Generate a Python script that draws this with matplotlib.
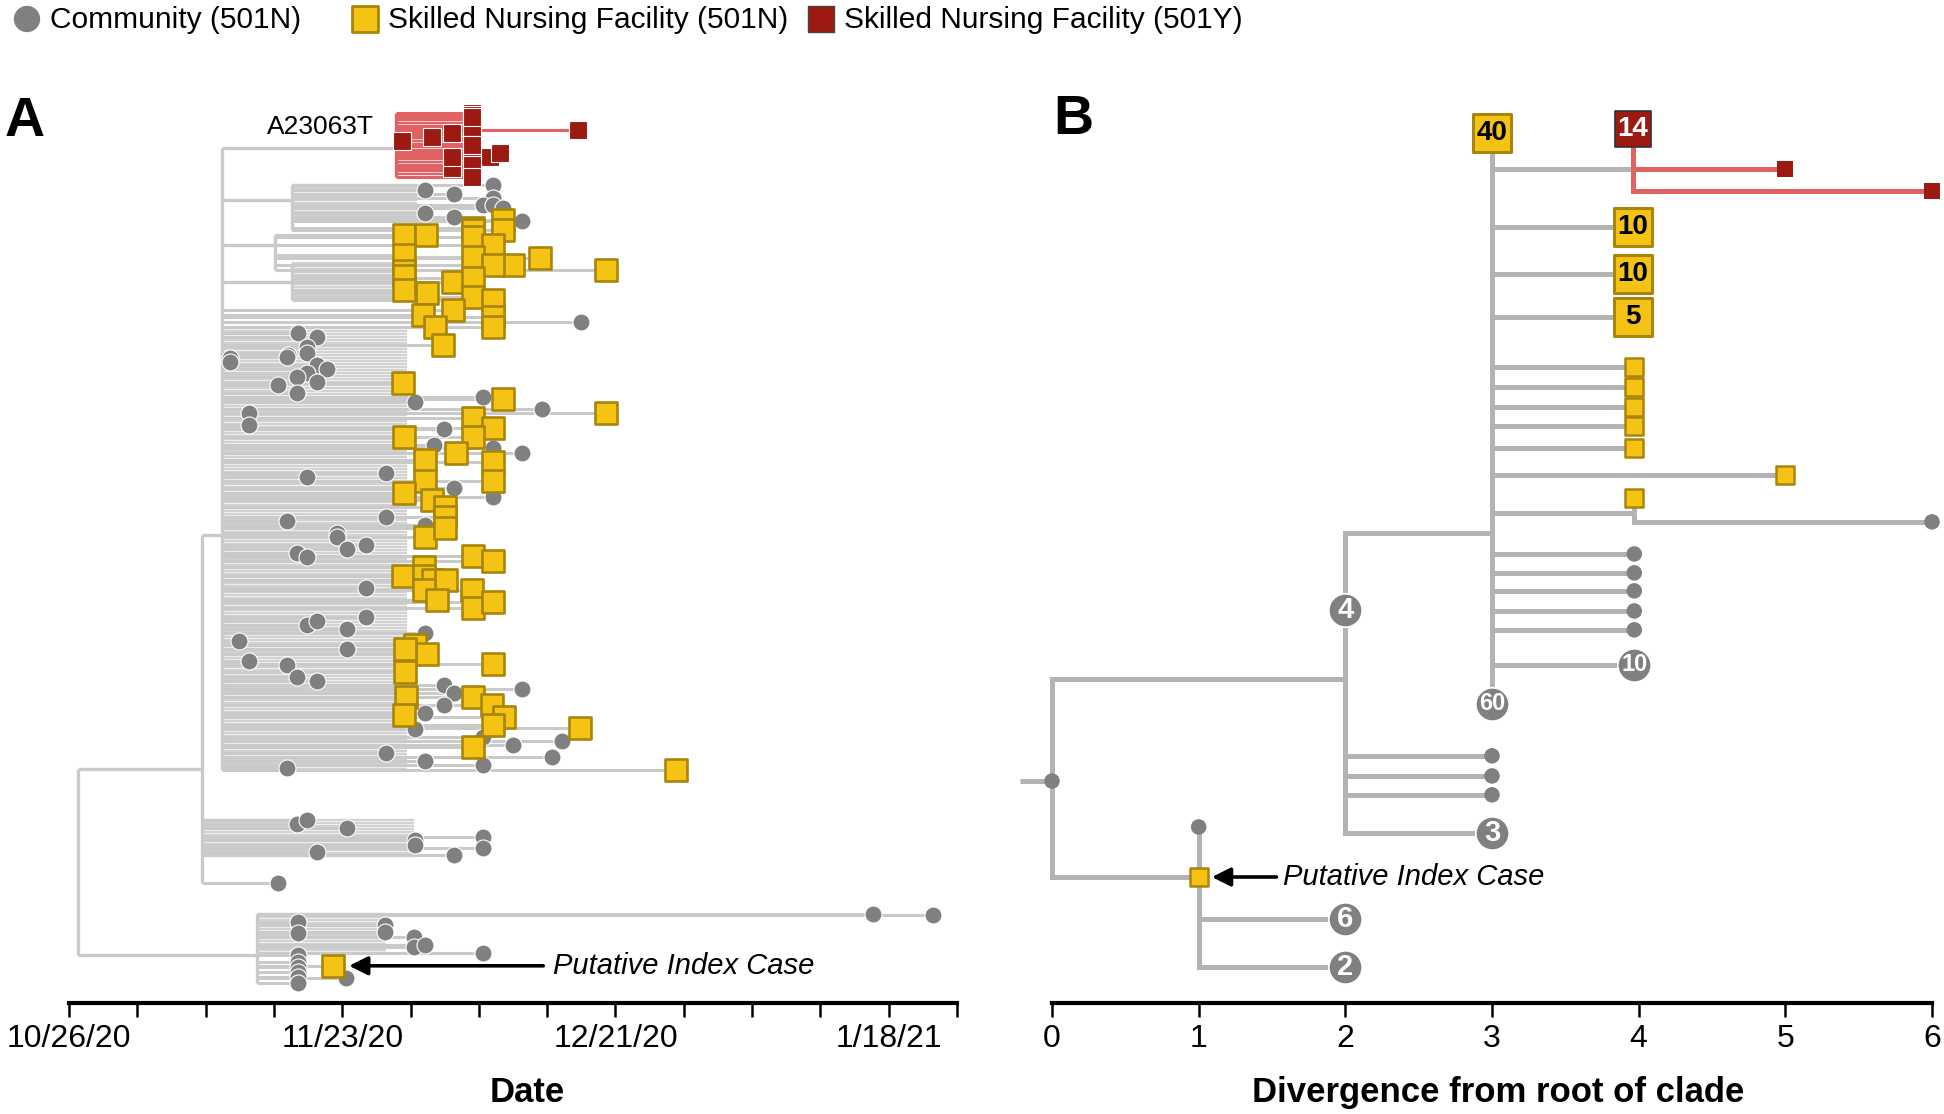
import numpy as np
import matplotlib
matplotlib.use('Agg')
import matplotlib.pyplot as plt
from matplotlib import font_manager
import pandas as pd

# ---------------- fonts ----------------
_names = {f.name for f in font_manager.fontManager.ttflist}
if 'Liberation Sans Narrow' in _names:
    FONT = 'Liberation Sans Narrow'
    NARROW = True
else:
    FONT = 'Liberation Sans'
    NARROW = False
plt.rcParams['font.family'] = [FONT, 'DejaVu Sans']

# font sizes (pt) - regular-width fallback is a bit smaller to keep text widths
FS_LEG = 25 if NARROW else 21.5
FS_TICK = 25 if NARROW else 23
FS_TITLE = 27 if NARROW else 25
FS_NOTE = 23 if NARROW else 21
FS_TAG = 23 if NARROW else 19

# ---------------- colours ----------------
GRAY_PT = '#808080'
YEL = '#f5c314'
YEL_EDGE = '#a8860c'
RED = '#9c1a12'
LINE_A = '#cacaca'
BLOCK_A = '#d2d2d2'
RED_LINE = '#e06262'
LINE_B = '#b3b3b3'

# ================= PANEL A data (x = days since 10/26/20, y = tip order) =================
base_date = pd.Timestamp('2020-10-26')

# clade: node date, parent clade, row where its stem joins the parent
clade_name = ['root', 'upper', 'big', 'red', 'g1', 'y1', 'y2', 'lower']
clade_day = [0.9, 13.6, 15.7, 33.5, 22.9, 21.1, 22.9, 19.3]
clade_parent = [None, 'root', 'upper', 'big', 'big', 'big', 'big', 'root']
clade_stem_row = [None, 219.7, 141.7, 12.7, 30.0, 45.0, 57.3, 281.7]

# densely packed internal lineages (seen as a shaded band)
block_clade = ['red', 'g1', 'y2', 'big', 'upper', 'lower']
block_row_from = [2.3, 25.0, 51.0, 72.7, 236.7, 268.0]
block_row_to = [21.7, 36.0, 62.7, 220.0, 249.0, 281.0]
block_end_day = [40.4, 35.7, 34.3, 34.6, 35.4, 32.5]

# tips per clade and sample type (c = community 501N, y = SNF 501N, r = SNF 501Y)
red_r_day = [34.1, 37.2, 39.3, 41.3, 41.3, 41.3, 41.3, 52.2, 41.3, 43.1, 44.2, 39.3, 41.3, 41.3, 41.3, 39.3]
red_r_row = [10.3, 9.0, 7.7, 5.7, 1.0, 1.7, 2.3, 6.7, 13.3, 15.7, 14.3, 19.3, 18.3, 22.3, 11.7, 15.7]

g1_c_day = [36.5, 39.5, 43.5, 43.5, 42.4, 43.5, 44.5, 36.5, 39.5, 46.4]
g1_c_row = [26.7, 28.0, 25.0, 29.3, 31.7, 31.7, 32.7, 34.3, 35.7, 37.0]
g1_y_day = [41.4, 41.4, 44.5, 44.5]
g1_y_row = [39.3, 40.0, 36.7, 40.0]

y1_y_day = [34.3, 36.6, 34.3, 41.4, 43.5, 41.4, 45.5, 48.3, 55.0, 43.5]
y1_y_row = [41.7, 41.7, 48.3, 42.3, 45.0, 49.0, 51.7, 49.3, 53.3, 51.7]

y2_y_day = [34.3, 34.3, 34.3, 36.7, 39.4, 41.4, 41.4, 43.5]
y2_y_row = [53.7, 55.3, 60.0, 61.0, 57.3, 56.0, 62.3, 63.3]

big_c_day = [52.5, 23.5, 25.4, 24.4, 22.4, 16.5,
             16.5, 22.3, 24.4, 25.4, 26.4, 24.4, 23.4, 25.4, 21.4, 23.4,
             35.5, 42.4, 48.5, 18.4, 18.4, 38.4, 37.4, 43.5, 46.4,
             32.5, 24.4, 39.5, 43.5, 32.5, 22.3, 36.5, 27.5, 27.5,
             30.4, 28.5, 23.4, 24.4, 30.4,
             24.4, 25.4, 30.4, 28.5, 17.4, 28.5, 36.5, 18.4, 22.3, 23.4, 25.4,
             38.4, 39.5, 38.4, 46.4, 36.5, 35.5, 42.4, 45.5, 50.5, 49.5, 32.5, 36.5, 42.4, 22.3]
big_c_row = [70.7, 74.3, 75.7, 79.0, 81.7, 82.7,
             84.0, 82.3, 81.0, 85.0, 86.3, 87.7, 89.0, 90.7, 91.7, 94.3,
             97.3, 95.7, 99.7, 101.0, 105.0, 106.3, 111.7, 112.7, 114.3,
             121.0, 122.3, 126.0, 129.0, 135.7, 137.0, 138.3, 141.0, 142.3,
             145.0, 146.3, 147.7, 149.0, 159.3,
             171.7, 170.3, 169.0, 173.0, 177.0, 179.7, 174.3, 183.7, 185.0, 189.0, 190.3,
             191.7, 194.3, 198.3, 193.0, 201.0, 206.3, 209.0, 211.7, 210.3, 215.7, 214.3, 217.0, 218.3, 219.5]
big_y_day = [39.4, 36.3, 43.5, 37.5, 43.5, 38.3,
             34.2, 44.5, 55.0, 41.4, 43.5, 41.4, 34.3, 39.7,
             36.5, 43.5, 43.5, 36.5, 34.3,
             37.2, 38.5, 38.5, 36.5, 38.5,
             41.4, 43.5, 34.2, 36.4, 36.4, 37.3, 38.6, 36.4, 41.3, 37.7, 41.4, 43.5,
             35.5, 36.7, 34.4, 34.4, 43.5, 34.5, 34.3, 41.4, 43.3, 44.6, 43.5, 41.4, 52.4, 62.2]
big_y_row = [66.7, 68.3, 69.0, 72.3, 72.3, 78.3,
             91.0, 96.3, 101.0, 102.7, 106.0, 109.0, 109.0, 114.3,
             116.7, 117.3, 123.7, 123.7, 127.7,
             130.0, 132.3, 135.7, 142.3, 139.3,
             148.7, 150.3, 155.3, 152.3, 155.3, 156.7, 156.7, 160.0, 160.0, 163.3, 166.0, 164.0,
             178.3, 181.3, 179.7, 187.3, 184.7, 195.7, 201.7, 195.7, 198.3, 202.3, 205.0, 212.3, 206.0, 220.0]

upper_c_day = [23.4, 24.4, 28.5, 42.4, 35.5, 35.5, 42.4, 25.4, 39.5, 21.4]
upper_c_row = [238.0, 236.7, 239.3, 242.3, 243.3, 245.0, 246.0, 247.3, 248.3, 257.7]

lower_c_day = [82.4, 88.5, 23.5, 23.5, 32.4, 32.4, 35.4, 35.4, 36.5, 42.4, 23.5, 23.5, 23.5, 23.5, 23.5, 23.5, 28.4]
lower_c_row = [268.0, 268.3, 270.7, 274.3, 271.7, 274.0, 275.7, 279.0, 278.3, 281.0, 281.7, 284.0, 285.7, 287.3, 289.0, 291.0, 289.3]
lower_y_day = [27.1]          # putative index case
lower_y_row = [285.3]

tag_day, tag_row = 25.8, 5.7  # A23063T
arrow_tail_day, note_day_a = 48.6, 49.6

# ================= PANEL B data (x = divergence, y = tip order) =================
b_name = ['n0', 'root_tip', 'n2', 'n1', 'n3', 'four', 't3a', 't3b', 't3c', 'three',
          'forty', 'sixty', 'n4r', 'fourteen', 'r5', 'r6', 'ten_a', 'ten_b', 'five',
          'sq1', 'sq2', 'sq3', 'sq4', 'sq5', 'sq_far', 'n4b', 'sq_n4b', 'c_far',
          'cc1', 'cc2', 'cc3', 'cc4', 'cc5', 'ten_c', 'idx', 'c_top', 'six', 'two']
b_parent = [None, 'n0', 'n0', 'n0', 'n2', 'n2', 'n2', 'n2', 'n2', 'n2',
            'n3', 'n3', 'n3', 'n4r', 'n4r', 'n4r', 'n3', 'n3', 'n3',
            'n3', 'n3', 'n3', 'n3', 'n3', 'n3', 'n3', 'n4b', 'n4b',
            'n3', 'n3', 'n3', 'n3', 'n3', 'n3', 'n1', 'n1', 'n1', 'n1']
b_div = [0, 0, 2, 1, 3, 2, 3, 3, 3, 3,
         3, 3, 3.96, 3.96, 5, 6, 3.96, 3.96, 3.96,
         3.97, 3.97, 3.97, 3.97, 3.97, 5, 3.97, 3.97, 6,
         3.97, 3.97, 3.97, 3.97, 3.97, 3.97, 1, 1, 2, 2]
b_row = [223.7, 223.7, 189.7, 255.7, 141.0, 166.7, 215.3, 222.0, 228.3, 241.0,
         7.6, 198.0, 19.7, 6.3, 19.7, 27.0, 39.0, 54.7, 69.0,
         85.7, 92.3, 99.0, 105.3, 112.7, 121.7, 134.4, 129.3, 137.3,
         148.0, 154.3, 160.3, 167.0, 173.3, 185.0, 255.7, 239.0, 269.7, 285.7]
# '-' internal node, c/y/r single tips, C/Y/R collapsed groups with their counts
b_kind = ['-', 'c', '-', '-', '-', 'C', 'c', 'c', 'c', 'C',
          'Y', 'C', '-', 'R', 'r', 'r', 'Y', 'Y', 'Y',
          'y', 'y', 'y', 'y', 'y', 'y', '-', 'y', 'c',
          'c', 'c', 'c', 'c', 'c', 'C', 'y', 'c', 'C', 'C']
b_count = ['', '', '', '', '', '4', '', '', '', '3',
           '40', '60', '', '14', '', '', '10', '10', '5',
           '', '', '', '', '', '', '', '', '',
           '', '', '', '', '', '10', '', '', '6', '2']
root_stub = -0.22
arrow_head_b, arrow_tail_b, note_div_b = 1.09, 1.53, 1.575

# ================= figure =================
W, H = 1944, 1114
fig = plt.figure(figsize=(W / 100, H / 100), dpi=100)


def fbox(x0, y0, x1, y1):
    return [x0 / W, 1 - y1 / H, (x1 - x0) / W, (y1 - y0) / H]


axA = fig.add_axes(fbox(69, 110, 957, 1003))
axB = fig.add_axes(fbox(1052, 110, 1932, 1003))
ROW_BOTTOM = 297.7

for ax in (axA, axB):
    ax.set_ylim(ROW_BOTTOM, 0)
    for s in ('left', 'right', 'top'):
        ax.spines[s].set_visible(False)
    ax.spines['bottom'].set_linewidth(3.0)
    ax.set_yticks([])
    ax.tick_params(axis='x', length=10, width=1.8, pad=5, labelsize=FS_TICK, colors='black')


def tips_scatter(ax, x, y, kind):
    if kind == 'c':
        ax.scatter(x, y, s=150, marker='o', c=GRAY_PT, edgecolors='white', linewidths=0.8, zorder=3, clip_on=False)
    elif kind == 'y':
        ax.scatter(x, y, s=245, marker='s', c=YEL, edgecolors=YEL_EDGE, linewidths=1.9, zorder=4, clip_on=False)
    elif kind == 'r':
        ax.scatter(x, y, s=150, marker='s', c=RED, edgecolors='white', linewidths=0.8, zorder=4, clip_on=False)


# ---------- panel A ----------
cl = {n: dict(day=d, parent=p, stem=s) for n, d, p, s in zip(clade_name, clade_day, clade_parent, clade_stem_row)}
tips = [
    ('red', red_r_day, red_r_row, 'r'),
    ('g1', g1_c_day, g1_c_row, 'c'), ('g1', g1_y_day, g1_y_row, 'y'),
    ('y1', y1_y_day, y1_y_row, 'y'),
    ('y2', y2_y_day, y2_y_row, 'y'),
    ('big', big_c_day, big_c_row, 'c'), ('big', big_y_day, big_y_row, 'y'),
    ('upper', upper_c_day, upper_c_row, 'c'),
    ('lower', lower_c_day, lower_c_row, 'c'), ('lower', lower_y_day, lower_y_row, 'y'),
]
span = {n: [] for n in clade_name}

# shaded bands of packed lineages
for c, r0, r1, e in zip(block_clade, block_row_from, block_row_to, block_end_day):
    col = RED_LINE if c == 'red' else BLOCK_A
    rows = np.arange(r0, r1 + 0.01, 1.0)
    axA.hlines(rows, cl[c]['day'], e, colors=col, linewidth=1.7, zorder=1)
    span[c] += [r0, r1]

# tip branches
for c, d, r, k in tips:
    col = RED_LINE if c == 'red' else LINE_A
    axA.hlines(r, cl[c]['day'], d, colors=col, linewidth=2.2, zorder=1.5)
    span[c] += list(r)

# stems between clades
for n in clade_name:
    p = cl[n]['parent']
    if p is None:
        continue
    axA.hlines(cl[n]['stem'], cl[p]['day'], cl[n]['day'], colors=LINE_A, linewidth=2.4, zorder=1.5)
    span[p].append(cl[n]['stem'])

# vertical connectors
for n in clade_name:
    col = RED_LINE if n == 'red' else LINE_A
    axA.vlines(cl[n]['day'], min(span[n]), max(span[n]), colors=col, linewidth=2.4, zorder=1.5)

# markers: circles first, squares on top
for kind in ('c', 'y', 'r'):
    xs, ys = [], []
    for c, d, r, k in tips:
        if k == kind:
            xs += list(d)
            ys += list(r)
    tips_scatter(axA, xs, ys, kind)

axA.text(tag_day, tag_row, 'A23063T', fontsize=FS_TAG, ha='center', va='center', zorder=5)
axA.annotate('', xy=(lower_y_day[0] + 1.6, lower_y_row[0]), xytext=(arrow_tail_day, lower_y_row[0]),
             arrowprops=dict(arrowstyle='-|>', color='black', lw=2.6, mutation_scale=28, shrinkA=0, shrinkB=0))
axA.text(note_day_a, lower_y_row[0], 'Putative Index Case', fontsize=FS_NOTE, style='italic', ha='left', va='center')

tick_days = np.arange(0, 92, 7)
axA.set_xlim(0, 91)
axA.set_xticks(tick_days)
labs = []
for t in tick_days:
    if t % 28 == 0:
        d = base_date + pd.Timedelta(days=int(t))
        labs.append(f'{d.month}/{d.day}/{d.strftime("%y")}')
    else:
        labs.append('')
axA.set_xticklabels(labs)
axA.set_xlabel('Date', fontsize=FS_TITLE, fontweight='bold')
axA.xaxis.set_label_coords(0.516, -0.082)

# ---------- panel B ----------
bx = dict(zip(b_name, b_div))
by = dict(zip(b_name, b_row))
axB.hlines(by['n0'], root_stub, 0, colors=LINE_B, linewidth=3.6, zorder=1, clip_on=False)
for n, p, k in zip(b_name, b_parent, b_kind):
    if p is None:
        continue
    col = RED_LINE if k in ('r', 'R') else LINE_B
    axB.plot([bx[p], bx[p], bx[n]], [by[p], by[n], by[n]], color=col, lw=3.6,
             solid_capstyle='butt', solid_joinstyle='miter', zorder=1 if col == LINE_B else 1.2, clip_on=False)

for n, k, cnt in zip(b_name, b_kind, b_count):
    x, y = bx[n], by[n]
    if k == 'c':
        axB.scatter(x, y, s=125, c=GRAY_PT, edgecolors='none', zorder=3, clip_on=False)
    elif k == 'y':
        axB.scatter(x, y, s=175, marker='s', c=YEL, edgecolors=YEL_EDGE, linewidths=1.8, zorder=3, clip_on=False)
    elif k == 'r':
        axB.scatter(x, y, s=135, marker='s', c=RED, edgecolors='none', zorder=3, clip_on=False)
    elif k == 'C':
        axB.scatter(x, y, s=580, c=GRAY_PT, edgecolors='white', linewidths=1.3, zorder=3, clip_on=False)
        axB.text(x, y, cnt, color='white', fontsize=(17 if len(cnt) > 1 else 21), fontweight='bold',
                 ha='center', va='center', zorder=4)
    elif k == 'Y':
        axB.scatter(x, y, s=720, marker='s', c=YEL, edgecolors=YEL_EDGE, linewidths=2.2, zorder=3, clip_on=False)
        axB.text(x, y, cnt, color='black', fontsize=20, fontweight='bold',
                 ha='center', va='center', zorder=4)
    elif k == 'R':
        axB.scatter(x, y, s=640, marker='s', c=RED, edgecolors='#333333', linewidths=1.2, zorder=3, clip_on=False)
        axB.text(x, y, cnt, color='white', fontsize=20, fontweight='bold',
                 ha='center', va='center', zorder=4)

axB.annotate('', xy=(arrow_head_b, by['idx']), xytext=(arrow_tail_b, by['idx']),
             arrowprops=dict(arrowstyle='-|>', color='black', lw=2.6, mutation_scale=28, shrinkA=0, shrinkB=0))
axB.text(note_div_b, by['idx'], 'Putative Index Case', fontsize=FS_NOTE, style='italic', ha='left', va='center')

axB.set_xlim(0, 6)
axB.set_xticks(range(7))
axB.set_xlabel('Divergence from root of clade', fontsize=FS_TITLE, fontweight='bold')
axB.xaxis.set_label_coords(0.507, -0.082)

# ---------- panel letters ----------
fig.text(25 / W, 1 - 122 / H, 'A', fontsize=40, fontweight='bold', ha='center', va='center')
fig.text(1073 / W, 1 - 120 / H, 'B', fontsize=40, fontweight='bold', ha='center', va='center')

# ---------- legend ----------
leg = fig.add_axes([0, 0, 1, 1], zorder=-1)
leg.set_xlim(0, W)
leg.set_ylim(H, 0)
leg.axis('off')
leg_labels = ['Community (501N)', 'Skilled Nursing Facility (501N)', 'Skilled Nursing Facility (501Y)']
leg.scatter(27, 19, s=360, c=GRAY_PT, edgecolors='none')
leg.scatter(365, 19, s=340, marker='s', c=YEL, edgecolors=YEL_EDGE, linewidths=2.0)
leg.scatter(821, 19, s=340, marker='s', c=RED, edgecolors='#444444', linewidths=1.0)
for x, t in zip([50, 388, 844], leg_labels):
    leg.text(x, 20, t, fontsize=FS_LEG, ha='left', va='center')

fig.savefig('out.png', dpi=100)
